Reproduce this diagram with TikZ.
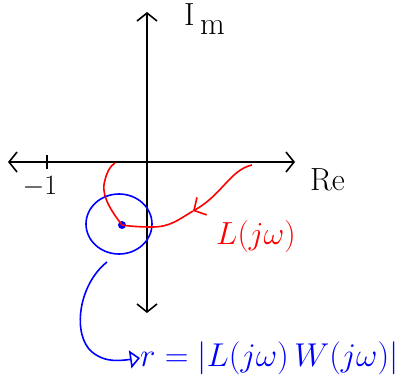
\RequirePackage{fix-cm}
\documentclass[tikz,border=0pt]{standalone}
\usepackage{tikz}
\usetikzlibrary{arrows.meta,shapes.geometric}

\begin{document}
\begin{tikzpicture}[x=1pt,y=-1pt,
  axis/.style={black, line width=1.6pt, {Straight Barb[length=8pt,width=20pt]}-{Straight Barb[length=8pt,width=20pt]}},
  hand/.style={font=\fontsize{32}{38}\selectfont, inner sep=0pt},
  nyq/.style={red, line width=1.6pt},
  unc/.style={blue, line width=1.6pt}]
\useasboundingbox (0,0) rectangle (407,375);
% axes
\coordinate (wl) at (8,162);
\coordinate (wr) at (295,162);
\coordinate (imtop) at (147,12);
\coordinate (imbot) at (147,313);
\draw[axis] (wl) -- (wr);
\draw[axis] (imbot) -- (imtop);
\draw[black, line width=1.6pt] (47,155) -- (47,169);
\node[hand, font=\fontsize{28}{32}\selectfont] (minus) at (40,187) {$-1$};
\node[hand, anchor=west] (im) at (184,19) {I\,\raisebox{-9pt}{m}};
\node[hand, anchor=west] (re) at (310,180) {Re};
% uncertainty disk
\node[unc, draw, ellipse, minimum width=66pt, minimum height=60pt] (disk) at (119,224) {};
\node[circle, fill=blue, inner sep=0pt, minimum size=8pt] (pt) at (122,225) {};
% Nyquist curve
\coordinate (start) at (252,165);
\coordinate (mid) at (193,211);
\draw[nyq, -{Straight Barb[length=9pt,width=20pt]}]
  (start) .. controls (230,170) and (222,195) .. (mid);
\draw[nyq] (mid) .. controls (178,220) and (170,227) .. (152,227)
  .. controls (138,227) and (128,226) .. (pt.center)
  .. controls (112,212) and (100,195) .. (105,180)
  .. controls (107,172) and (110,166) .. (115,163);
\node[hand, red, anchor=west] (lab) at (216,236) {$L(j\omega)$};
% radius
\coordinate (tail) at (107,262);
\node[hand, blue, anchor=west, font=\fontsize{33}{38}\selectfont] (rlab) at (140,358) {$r = |L(j\omega)\,W(j\omega)|$};
\draw[unc, -{Triangle[open, length=10pt, width=18pt]}]
  (tail) .. controls (78,285) and (72,335) .. (92,352) .. controls (102,360) and (112,362) .. (rlab.west);
\end{tikzpicture}
\end{document}
